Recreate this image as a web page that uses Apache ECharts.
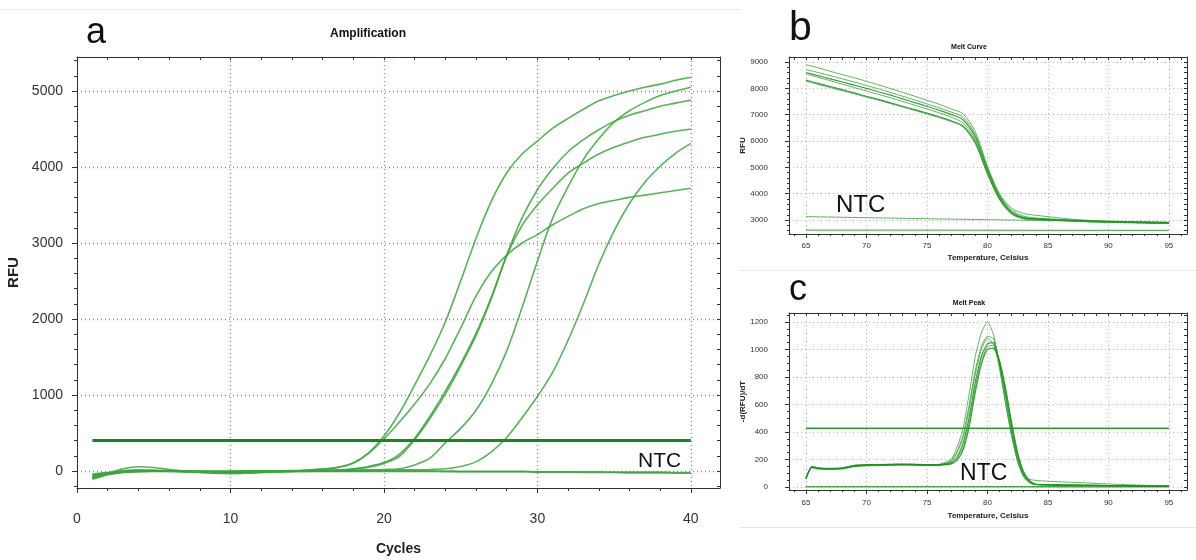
<!DOCTYPE html>
<html>
<head>
<meta charset="utf-8">
<script src="https://cdn.jsdelivr.net/npm/echarts@6/dist/echarts.min.js"></script>
<style>
html, body { margin: 0; padding: 0; background: #fff; }
#main { width: 1196px; height: 560px; }
</style>
</head>
<body>
<div id="main"></div>
<script>
// ---- panel a : amplification ----
var cycles = [1,2,3,4,5,6,7,8,9,10,11,12,13,14,15,16,17,18,19,20,21,22,23,24,25,26,27,28,29,30,31,32,33,34,35,36,37,38,39,40];
var ampA = [-60,-25,5,15,10,0,-10,-20,-25,-20,-15,-10,-5,0,10,25,50,110,240,460,760,1130,1520,1960,2500,3060,3550,3920,4170,4340,4510,4640,4760,4870,4940,5000,5050,5090,5140,5180];
var ampF = [-90,-30,30,55,45,20,0,-15,-30,-35,-30,-20,-10,0,10,25,45,100,230,420,640,880,1150,1480,1880,2300,2620,2840,3000,3110,3240,3350,3450,3520,3560,3600,3630,3660,3690,3720];
var ampC = [-80,-40,-10,0,5,5,0,-5,-10,-10,-5,0,0,5,5,10,15,30,60,110,220,430,720,1050,1410,1810,2290,2840,3330,3700,3980,4200,4360,4490,4600,4680,4740,4800,4840,4880];
var ampD = [-100,-45,-20,-5,0,0,-5,-10,-15,-15,-10,-5,0,0,5,5,10,25,50,100,190,410,690,1010,1380,1780,2270,2830,3230,3500,3720,3920,4050,4170,4260,4330,4390,4430,4470,4500];
var ampB = [-70,-30,-5,5,5,0,-5,-10,-20,-25,-25,-20,-15,-10,-5,0,5,10,15,20,30,80,170,370,560,800,1140,1580,2150,2760,3330,3740,4100,4370,4590,4740,4850,4940,5000,5050];
var ampE = [-110,-50,-15,0,0,-5,-10,-15,-15,-10,-5,0,0,0,0,5,5,5,10,10,15,15,20,30,60,120,250,440,700,980,1300,1720,2200,2720,3160,3520,3800,4010,4180,4310];
var ampNtc1 = [-40,-20,-10,-5,0,0,0,0,0,0,0,0,0,0,0,0,0,0,0,0,0,0,0,0,-5,-5,-5,-5,-5,-10,-10,-10,-10,-10,-15,-15,-15,-15,-20,-20];
var ampNtc2 = [-50,-25,-15,-10,-5,-5,-5,-5,-5,-5,-5,-5,-5,-5,-5,-5,-5,-5,-5,-5,-5,-5,-5,-10,-10,-10,-10,-10,-10,-15,-15,-15,-20,-20,-20,-25,-25,-25,-30,-30];
var ampThreshold = 400;
var ampXMajor = [0,10,20,30,40];
var ampXMinor = [2,4,6,8,12,14,16,18,22,24,26,28,32,34,36,38];
var ampYMajor = [0,1000,2000,3000,4000,5000];
var ampYMinor = [-200,200,400,600,800,1200,1400,1600,1800,2200,2400,2600,2800,3200,3400,3600,3800,4200,4400,4600,4800,5200,5400];

// ---- panel b : melt curve ----
var meltTemps = [65,66,67,68,69,70,71,72,73,74,75,76,77,78,79,80,81,82,83,84,85,86,87,88,89,90,91,92,93,94,95];
var melt1 = [8900,8780,8650,8520,8400,8270,8130,7990,7850,7700,7550,7400,7220,7030,6350,5050,4000,3450,3250,3180,3130,3080,3030,3000,2980,2960,2950,2940,2930,2920,2910];
var melt2 = [8720,8600,8480,8360,8240,8110,7980,7840,7700,7560,7410,7260,7100,6900,6250,4980,3950,3380,3150,3080,3050,3020,3000,2980,2960,2950,2940,2930,2920,2910,2900];
var melt3 = [8600,8480,8360,8240,8120,8000,7870,7740,7600,7460,7320,7170,7010,6800,6150,4920,3900,3320,3100,3050,3030,3010,2990,2970,2950,2940,2930,2920,2910,2900,2890];
var melt4 = [8550,8420,8290,8160,8030,7900,7770,7640,7500,7360,7220,7070,6910,6680,6050,4850,3850,3280,3080,3040,3020,3000,2980,2960,2940,2930,2920,2910,2900,2890,2880];
var melt5 = [8310,8190,8070,7950,7830,7700,7580,7450,7320,7190,7060,6920,6770,6560,5950,4780,3800,3250,3060,3030,3010,2990,2970,2950,2930,2920,2910,2900,2890,2880,2880];
var melt6 = [8270,8150,8030,7910,7790,7670,7550,7420,7290,7160,7030,6890,6740,6530,5900,4750,3780,3240,3050,3020,3000,2980,2960,2940,2930,2920,2910,2900,2890,2880,2870];
var ntcTemps = [65,75,85,95];
var meltNtc1 = [3130,3050,2980,2920];
var meltNtc2 = [2620,2615,2610,2605];
var tempMajor = [65,70,75,80,85,90,95];
var tempMinor = [64,66,67,68,69,71,72,73,74,76,77,78,79,81,82,83,84,86,87,88,89,91,92,93,94,96];
var meltYMajor = [3000,4000,5000,6000,7000,8000,9000];
var meltYMinor = [2600,2800,3200,3400,3600,3800,4200,4400,4600,4800,5200,5400,5600,5800,6200,6400,6600,6800,7200,7400,7600,7800,8200,8400,8600,8800];

// ---- panel c : melt peak ----
var peakTemps = [65,65.5,66,67,68,69,70,71,72,73,74,75,76,76.5,77,77.5,78,78.5,79,79.5,80,80.5,81,81.5,82,82.5,83,83.5,84,85,86,88,90,92,95];
var peak1 = [60,150,140,136,140,158,163,164,165,166,165,163,165,180,200,290,430,680,950,1120,1200,1110,880,610,370,180,70,30,18,15,14,12,10,8,5];
var peak2 = [65,145,135,132,135,152,158,160,162,163,162,160,160,170,190,260,380,600,850,1020,1095,1080,900,650,400,200,80,35,20,16,14,12,10,8,6];
var peak3 = [70,140,132,130,133,150,156,158,160,161,160,158,158,168,185,250,360,570,820,1000,1080,1040,860,610,380,190,80,55,48,42,38,30,22,15,7];
var peak4 = [62,148,138,134,138,155,160,162,164,165,164,162,162,168,178,220,320,510,760,950,1040,1050,900,680,430,220,90,35,18,15,13,12,10,8,6];
var peak5 = [68,142,130,128,131,148,153,155,157,158,157,155,155,163,170,205,290,470,720,920,1020,1030,910,700,450,240,100,40,18,15,13,11,10,8,6];
var peak6 = [58,146,136,133,136,154,159,161,163,164,163,161,161,162,168,195,270,440,690,890,1000,1010,920,720,470,250,110,45,20,16,14,12,10,8,6];
var peakNtc1 = [4,4,3,3];
var peakNtc2 = [0,0,0,0];
var peakThreshold = 427;
var peakYMajor = [0,200,400,600,800,1000,1200];
var peakYMinor = [50,100,150,250,300,350,450,500,550,650,700,750,850,900,950,1050,1100,1150,1250];

var sans = "'Liberation Sans', Arial, sans-serif";

function axes(grid, dim, min, max, majors, minors, o) {
	var pos = dim === 'x' ? ['bottom', 'top'] : ['left', 'right'];
	var line = { show: true, onZero: false, lineStyle: { color: '#333', width: 1 } };
	var tickStyle = { color: '#333', width: 1 };
	return [{
		gridIndex: grid, type: 'value', min: min, max: max, position: pos[0],
		name: o.name, nameLocation: 'middle', nameGap: o.nameGap,
		nameTextStyle: { fontFamily: sans, fontSize: o.nameSize, fontWeight: 'bold', color: '#222' },
		axisLine: line,
		axisTick: { customValues: majors, length: o.tick, lineStyle: tickStyle },
		axisLabel: { customValues: majors, margin: o.margin, fontFamily: sans, fontSize: o.labelSize, color: '#333',
			formatter: function (v) { return String(v); } },
		splitLine: { show: true, lineStyle: { color: o.gridColor, width: o.gridWidth, type: [1, 3] } }
	}, {
		gridIndex: grid, type: 'value', min: min, max: max, position: pos[0],
		axisLine: { show: false, onZero: false },
		axisTick: { customValues: minors, length: Math.max(2, Math.round(o.tick * 0.6)), lineStyle: tickStyle },
		axisLabel: { show: false },
		splitLine: { show: false }
	}, {
		gridIndex: grid, type: 'value', min: min, max: max, position: pos[1],
		axisLine: line,
		axisTick: { customValues: majors.concat(minors), inside: true, length: 3, lineStyle: tickStyle },
		axisLabel: { show: false },
		splitLine: { show: false }
	}];
}

function pairs(xs, ys) {
	return xs.map(function (x, i) { return [x, ys[i]]; });
}

function curve(xi, xs, ys, color, width, smooth) {
	return {
		type: 'line', xAxisIndex: xi, yAxisIndex: xi,
		data: pairs(xs, ys), symbol: 'none', showSymbol: false,
		smooth: smooth, silent: true,
		lineStyle: { color: color, width: width }
	};
}

var aOpt = { tick: 5, labelSize: 14, nameSize: 14, gridColor: '#8a8a8a', gridWidth: 1.3 };
var bOpt = { tick: 4, labelSize: 8, nameSize: 8, gridColor: '#b5b5b5', gridWidth: 1 };

var xAxes = []
	.concat(axes(0, 'x', 0, 41.9, ampXMajor, ampXMinor, Object.assign({}, aOpt, { name: 'Cycles', nameGap: 54, margin: 24 })))
	.concat(axes(1, 'x', 63.6, 96.5, tempMajor, tempMinor, Object.assign({}, bOpt, { name: 'Temperature, Celsius', nameGap: 20, margin: 8 })))
	.concat(axes(2, 'x', 63.6, 96.5, tempMajor, tempMinor, Object.assign({}, bOpt, { name: 'Temperature, Celsius', nameGap: 22, margin: 9 })));
var yAxes = []
	.concat(axes(0, 'y', -224, 5447, ampYMajor, ampYMinor, Object.assign({}, aOpt, { name: 'RFU', nameGap: 55, margin: 14, nameSize: 15 })))
	.concat(axes(1, 'y', 2470, 9190, meltYMajor, meltYMinor, Object.assign({}, bOpt, { name: 'RFU', nameGap: 35, margin: 21 })))
	.concat(axes(2, 'y', -22, 1265, peakYMajor, peakYMinor, Object.assign({}, bOpt, { name: '-d(RFU)/dT', nameGap: 35, margin: 21 })));

var gA = 'rgba(60,165,60,0.85)';
var gB = 'rgba(45,155,45,0.75)';
var gD = 'rgba(30,140,30,0.85)';
var dark = '#17891a';

var series = [
	curve(0, cycles, ampNtc1, gA, 1.6, 0.3),
	curve(0, cycles, ampNtc2, gA, 1.6, 0.3),
	curve(0, cycles, ampA, gA, 1.6, 0.3),
	curve(0, cycles, ampF, gA, 1.6, 0.3),
	curve(0, cycles, ampC, gA, 1.6, 0.3),
	curve(0, cycles, ampD, gA, 1.6, 0.3),
	curve(0, cycles, ampB, gA, 1.6, 0.3),
	curve(0, cycles, ampE, gA, 1.6, 0.3),
	curve(0, [cycles[0], cycles[cycles.length - 1]], [ampThreshold, ampThreshold], dark, 3, false),

	curve(3, ntcTemps, meltNtc1, gB, 1, false),
	curve(3, ntcTemps, meltNtc2, gB, 1.2, false),
	curve(3, meltTemps, melt1, gB, 1, 0.3),
	curve(3, meltTemps, melt2, gB, 1, 0.3),
	curve(3, meltTemps, melt3, gD, 1.2, 0.3),
	curve(3, meltTemps, melt4, gB, 1, 0.3),
	curve(3, meltTemps, melt5, gD, 1.2, 0.3),
	curve(3, meltTemps, melt6, gB, 1, 0.3),

	curve(6, ntcTemps, peakNtc1, gB, 1, false),
	curve(6, ntcTemps, peakNtc2, gB, 1.2, false),
	curve(6, [peakTemps[0], peakTemps[peakTemps.length - 1]], [peakThreshold, peakThreshold], '#2a9a2a', 1.5, false),
	curve(6, peakTemps, peak1, gB, 1, 0.2),
	curve(6, peakTemps, peak2, gB, 1, 0.2),
	curve(6, peakTemps, peak3, gB, 1, 0.2),
	curve(6, peakTemps, peak4, gD, 1.2, 0.2),
	curve(6, peakTemps, peak5, gB, 1, 0.2),
	curve(6, peakTemps, peak6, gD, 1.2, 0.2)
];

function label(text, x, y, size, weight, align) {
	return {
		type: 'text', x: x, y: y, silent: true, z: 100,
		style: { text: text, fill: '#111', font: (weight || 'normal') + ' ' + size + 'px ' + sans,
			align: align || 'left', verticalAlign: 'middle' }
	};
}
function rule(x1, y1, x2, y2) {
	return { type: 'line', silent: true, z: 0, shape: { x1: x1, y1: y1, x2: x2, y2: y2 },
		style: { stroke: '#e6e6e6', lineWidth: 1 } };
}

var myChart = echarts.init(document.getElementById('main'));
var option = {
	backgroundColor: '#fff',
	animation: false,
	grid: [
		{ left: 77, top: 57, width: 643, height: 431, outerBoundsMode: 'none', containLabel: false },
		{ left: 789, top: 57, width: 398, height: 177, outerBoundsMode: 'none', containLabel: false },
		{ left: 789, top: 313, width: 398, height: 177, outerBoundsMode: 'none', containLabel: false }
	],
	xAxis: xAxes,
	yAxis: yAxes,
	series: series,
	graphic: [
		rule(0, 9.5, 740, 9.5),
		rule(740, 270.5, 1196, 270.5),
		rule(740, 527.5, 1196, 527.5),
		label('Amplification', 368, 34, 12, 'bold', 'center'),
		label('Melt Curve', 969, 47, 7, 'bold', 'center'),
		label('Melt Peak', 969, 303, 7, 'bold', 'center'),
		label('a', 86, 33, 36),
		label('b', 789, 29, 41),
		label('c', 789, 290, 36),
		label('NTC', 638, 461, 21),
		label('NTC', 836, 205, 24),
		label('NTC', 960, 474, 23)
	]
};
myChart.setOption(option);
</script>
</body>
</html>
